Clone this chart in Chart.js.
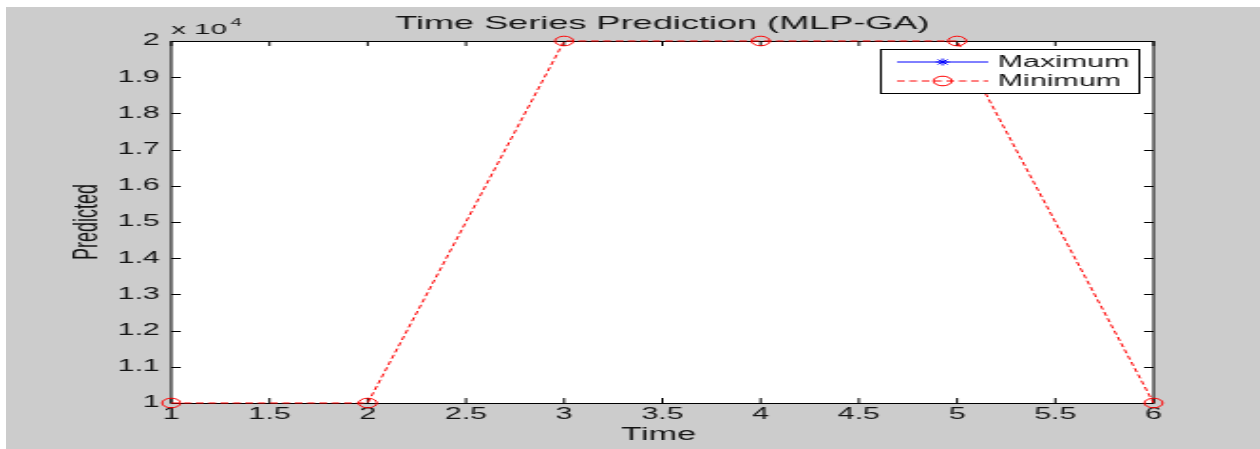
<!DOCTYPE html>
<html>
<head>
<meta charset="utf-8">
<script src="https://cdn.jsdelivr.net/npm/chart.js@4.4.1/dist/chart.umd.min.js"></script>
<style>
  html, body { margin: 0; padding: 0; background: #fff; overflow: hidden; }
  #wrap { position: absolute; left: 6px; top: 7px; }
  /* the source figure is stretched sideways, so the canvas is too */
  #chart { display: block; background: #cccccc; transform: scaleX(1.9); transform-origin: 0 0; }
</style>
</head>
<body>
<div id="wrap"><canvas id="chart" width="660" height="442"></canvas></div>
<script>
const timeSteps = [1, 2, 3, 4, 5, 6];
const minimumValues = [10000, 10000, 20000, 20000, 20000, 10000];
const maximumValues = [];   // no blue marks visible in the figure
const seriesNames = ['Maximum', 'Minimum'];
const xTickLabels = ['1', '1.5', '2', '2.5', '3', '3.5', '4', '4.5', '5', '5.5', '6'];
const yTickLabels = ['1', '1.1', '1.2', '1.3', '1.4', '1.5', '1.6', '1.7', '1.8', '1.9', '2'];

const TEXT = '#141414';
const FONT = '"Liberation Sans", Arial, sans-serif';

function drawStar(ctx, x, y, r) {
    const d = r * Math.SQRT1_2;
    ctx.beginPath();
    ctx.moveTo(x - r, y); ctx.lineTo(x + r, y);
    ctx.moveTo(x, y - r); ctx.lineTo(x, y + r);
    ctx.moveTo(x - d, y - d); ctx.lineTo(x + d, y + d);
    ctx.moveTo(x - d, y + d); ctx.lineTo(x + d, y - d);
    ctx.stroke();
}

const matlabFrame = {
    id: 'matlabFrame',
    beforeDraw(chart) {
        const { ctx, chartArea: a } = chart;
        ctx.save();
        ctx.fillStyle = '#ffffff';
        ctx.fillRect(a.left, a.top, a.right - a.left, a.bottom - a.top);
        ctx.restore();
    },
    beforeDatasetsDraw(chart) {
        const { ctx, chartArea: a, scales } = chart;
        ctx.save();
        ctx.strokeStyle = '#000';
        ctx.lineWidth = 1;
        ctx.strokeRect(a.left, a.top + 0.5, a.right - a.left, a.bottom - a.top);
        // inward ticks on all four sides
        ctx.beginPath();
        scales.x.ticks.forEach(t => {
            const px = scales.x.getPixelForValue(t.value);
            ctx.moveTo(px, a.bottom); ctx.lineTo(px, a.bottom - 5);
            ctx.moveTo(px, a.top); ctx.lineTo(px, a.top + 5);
        });
        scales.y.ticks.forEach(t => {
            const py = Math.round(scales.y.getPixelForValue(t.value)) + 0.5;
            ctx.moveTo(a.left, py); ctx.lineTo(a.left + 5, py);
            ctx.moveTo(a.right, py); ctx.lineTo(a.right - 5, py);
        });
        ctx.stroke();
        ctx.restore();
    },
    afterDraw(chart) {
        const { ctx, chartArea: a } = chart;
        const cx = (a.left + a.right) / 2;
        ctx.save();
        ctx.fillStyle = TEXT;

        // title
        ctx.font = '19px ' + FONT;
        ctx.textAlign = 'center';
        ctx.textBaseline = 'alphabetic';
        ctx.fillText('Time Series Prediction (MLP-GA)', cx, 22);

        // exponent label
        ctx.font = '15.5px ' + FONT;
        ctx.textAlign = 'left';
        const base = 'x 10';
        ctx.fillText(base, a.left, 27);
        const w = ctx.measureText(base).width;
        ctx.font = '10.5px ' + FONT;
        ctx.fillText('4', a.left + w + 2, 19);

        // axis titles
        ctx.font = '18px ' + FONT;
        ctx.textAlign = 'center';
        ctx.fillText('Time', cx - 2, 433);
        ctx.save();
        ctx.translate(42.6, (a.top + a.bottom) / 2);
        ctx.rotate(-Math.PI / 2);
        ctx.textBaseline = 'middle';
        ctx.fillText('Predicted', 0, 0);
        ctx.restore();

        // legend
        const lx = 460.5, ly = 42, lw = 136, lh = 44;
        ctx.fillStyle = '#fff';
        ctx.fillRect(lx, ly, lw, lh);
        ctx.strokeStyle = '#000';
        ctx.lineWidth = 1;
        ctx.strokeRect(lx, ly + 0.5, lw, lh);
        const rows = [55, 74];
        chart.data.datasets.forEach((ds, i) => {
            const y = rows[i];
            ctx.strokeStyle = ds.borderColor;
            ctx.lineWidth = 1;
            ctx.setLineDash(ds.borderDash || []);
            ctx.beginPath();
            ctx.moveTo(469, y); ctx.lineTo(517, y);
            ctx.stroke();
            ctx.setLineDash([]);
            if (ds.pointStyle === 'star') {
                drawStar(ctx, 493, y, 3.5);
            } else {
                ctx.beginPath();
                ctx.arc(493, y, ds.pointRadius, 0, Math.PI * 2);
                ctx.stroke();
            }
            ctx.fillStyle = TEXT;
            ctx.font = '16px ' + FONT;
            ctx.textAlign = 'left';
            ctx.textBaseline = 'middle';
            ctx.fillText(ds.label, 522, y + 1);
        });
        ctx.restore();
    }
};

const ctx = document.getElementById('chart').getContext('2d');
new Chart(ctx, {
    type: 'line',
    data: {
        datasets: [
            { label: seriesNames[0], data: maximumValues.map((v, i) => ({ x: timeSteps[i], y: v })),
              borderColor: '#0000ff', borderWidth: 1, pointStyle: 'star', pointRadius: 3.5,
              pointBorderColor: '#0000ff', backgroundColor: 'transparent', clip: false },
            { label: seriesNames[1], data: minimumValues.map((v, i) => ({ x: timeSteps[i], y: v })),
              borderColor: '#ff0000', borderWidth: 1, borderDash: [4, 2.5], pointStyle: 'circle',
              pointRadius: 4.8, pointBorderColor: '#ff0000', pointBackgroundColor: 'transparent',
              pointBorderWidth: 1, backgroundColor: 'transparent', tension: 0, clip: false },
        ]
    },
    options: {
        responsive: false,
        animation: false,
        devicePixelRatio: 1,
        layout: { padding: { top: 34, right: 56, left: 0, bottom: 0 } },
        plugins: { legend: { display: false }, title: { display: false }, tooltip: { enabled: false } },
        scales: {
            x: {
                type: 'linear', min: 1, max: 6,
                grid: { display: false, drawTicks: false }, border: { display: false },
                afterFit: (s) => { s.height = 46; },
                ticks: {
                    stepSize: 0.5, autoSkip: false, maxRotation: 0, padding: 2,
                    color: TEXT, font: { family: FONT, size: 16 },
                    callback: (v, i) => xTickLabels[i]
                }
            },
            y: {
                min: 10000, max: 20000,
                grid: { display: false, drawTicks: false }, border: { display: false },
                afterFit: (s) => { s.width = 87; },
                ticks: {
                    stepSize: 1000, autoSkip: false, padding: 6,
                    color: TEXT, font: { family: FONT, size: 16 },
                    callback: (v, i) => yTickLabels[i]
                }
            }
        }
    },
    plugins: [matlabFrame]
});
</script>
</body>
</html>
